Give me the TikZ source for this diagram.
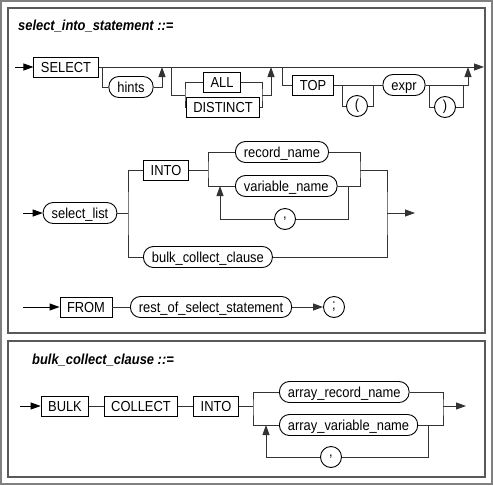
\documentclass[tikz,border=0pt]{standalone}
\usepackage{fontspec}
\setmainfont{Liberation Sans}[FakeStretch=0.89]
\usepackage{tikz}
\usetikzlibrary{positioning,shapes,arrows.meta}

\tikzset{
  kw/.style={draw, rectangle, line width=0.9pt, minimum height=20pt, inner xsep=7pt, inner ysep=0pt, text height=10.4pt, text depth=0pt, font=\fontsize{14.5}{16}\selectfont},
  nt/.style={draw, rectangle, rounded corners=10pt, line width=0.9pt, minimum height=21pt, inner xsep=8.5pt, inner ysep=0pt, text height=10.4pt, text depth=0pt, font=\fontsize{14.5}{16}\selectfont},
  sym/.style={draw, circle, line width=0.9pt, minimum size=21pt, inner sep=0pt, font=\fontsize{14.5}{16}\selectfont},
  titletext/.style={font=\fontsize{14.5}{16}\selectfont\bfseries\itshape, inner sep=0pt},
  conn/.style={line width=0.9pt, black!80},
  arr/.style={line width=0.9pt, -{Triangle[length=10pt,width=7pt]}},
  frame/.style={line width=1.2pt, black!65},
}

\begin{document}
\begin{tikzpicture}[x=1pt,y=-1pt]
  \useasboundingbox (0,0) rectangle (493,485);
  \draw[line width=1.5pt, black!50] (1,1) rectangle (492,484);
  \draw[frame] (8,8) rectangle (485,333);
  \draw[frame] (8,341) rectangle (485,477);

  % select_into_statement
  \node[titletext, anchor=west] (title1) at (18,26) {select\_into\_statement ::=};

  \coordinate (s0) at (15,67);
  \node[kw] (select) at (66,67) {SELECT};
  \coordinate (send) at (484,67);
  \draw[arr] (s0) -- (select);
  \draw[conn, arr] (select) -- (send);

  \node[nt] (hints) at (131,87) {hints};
  \coordinate (h1) at (102,67);
  \coordinate (h2) at (162,67);
  \draw[conn] (h1) |- (hints.west);
  \draw[conn, arr] (hints.east) -| (h2);

  \node[kw] (all) at (222,82) {ALL};
  \node[kw] (distinct) at (223,107) {DISTINCT};
  \coordinate (a1) at (171,67);
  \coordinate (a2) at (185,95);
  \coordinate (a3) at (262,95);
  \coordinate (a4) at (271,67);
  \draw[conn] (a1) |- (a2);
  \draw[conn] (all.west) -| (a2) |- (distinct.west);
  \draw[conn] (all.east) -| (a3) |- (distinct.east);
  \draw[conn, arr] (a3) -| (a4);

  \node[kw] (top) at (313,85) {TOP};
  \node[sym] (lpar) at (357,106) {(};
  \node[nt] (expr) at (404,85) {expr};
  \node[sym] (rpar) at (445,107) {)};
  \coordinate (p1) at (282,67);
  \coordinate (q1) at (342,85);
  \coordinate (q2) at (373,85);
  \coordinate (q3) at (429,85);
  \coordinate (q4) at (463,85);
  \coordinate (q5) at (468,67);
  \draw[conn] (p1) |- (top.west);
  \draw[conn] (top.east) -- (expr.west);
  \draw[conn] (q1) |- (lpar.west);
  \draw[conn] (lpar.east) -| (q2);
  \draw[conn, arr] (expr.east) -| (q5);
  \draw[conn] (q3) |- (rpar.west);
  \draw[conn] (rpar.east) -| (q4);

  % INTO / bulk_collect_clause
  \coordinate (b0) at (23,213);
  \node[nt] (sellist) at (80,213) {select\_list};
  \draw[arr] (b0) -- (sellist);
  \coordinate (b1) at (128,213);
  \node[kw] (into) at (166,170) {INTO};
  \node[nt, anchor=west] (bulkref) at (143,257) {bulk\_collect\_clause};
  \draw[conn] (sellist) -- (b1);
  \draw[conn] (into.west) -| (b1) |- (bulkref.west);

  \coordinate (c1) at (208,170);
  \node[nt, anchor=west] (recname) at (235,152) {record\_name};
  \node[nt, anchor=west] (varname) at (235,186) {variable\_name};
  \draw[conn] (into) -- (c1);
  \draw[conn] (recname.west) -| (c1) |- (varname.west);
  \coordinate (c2) at (360,170);
  \coordinate (c3) at (387,213);
  \coordinate (c4) at (415,213);
  \draw[conn] (recname.east) -| (c2) |- (varname.east);
  \draw[conn] (c2) -| (c3) |- (bulkref.east);
  \draw[conn, arr] (c3) -- (c4);

  \node[sym] (comma1) at (285,219) {,};
  \coordinate (l1) at (348,186);
  \coordinate (l2) at (220,186);
  \draw[conn] (l1) |- (comma1.east);
  \draw[conn, arr] (comma1.west) -| (l2);

  % FROM
  \coordinate (f0) at (23,307);
  \node[kw] (from) at (86,307) {FROM};
  \node[nt, anchor=west] (rest) at (130,307) {rest\_of\_select\_statement};
  \node[sym] (semi) at (334,307) {;};
  \draw[arr] (f0) -- (from);
  \draw[conn] (from) -- (rest);
  \draw[conn, arr] (rest) -- (semi);

  % bulk_collect_clause
  \node[titletext, anchor=west] (title2) at (32,360) {bulk\_collect\_clause ::=};

  \coordinate (k0) at (20,406);
  \node[kw] (bulk) at (65,406) {BULK};
  \node[kw] (collect) at (141,406) {COLLECT};
  \node[kw] (into2) at (216,406) {INTO};
  \draw[arr] (k0) -- (bulk);
  \draw[conn] (bulk) -- (collect);
  \draw[conn] (collect) -- (into2);

  \coordinate (k1) at (253,406);
  \node[nt, anchor=west] (arrec) at (279,392) {array\_record\_name};
  \node[nt, anchor=west] (arvar) at (279,425) {array\_variable\_name};
  \draw[conn] (into2) -- (k1);
  \draw[conn] (arrec.west) -| (k1) |- (arvar.west);
  \coordinate (k2) at (443,406);
  \coordinate (k3) at (466,406);
  \draw[conn] (arrec.east) -| (k2) |- (arvar.east);
  \draw[conn, arr] (k2) -- (k3);

  \node[sym] (comma2) at (331,457) {,};
  \coordinate (m1) at (428,425);
  \coordinate (m2) at (266,425);
  \draw[conn] (m1) |- (comma2.east);
  \draw[conn, arr] (comma2.west) -| (m2);
\end{tikzpicture}
\end{document}
